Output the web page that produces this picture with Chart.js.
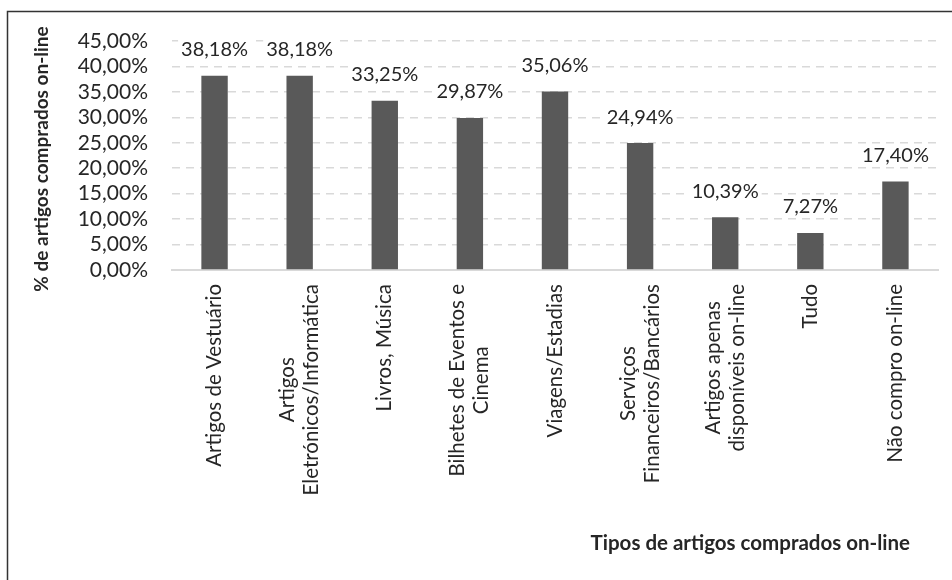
<!DOCTYPE html>
<html>
<head>
<meta charset="utf-8">
<script src="https://cdn.jsdelivr.net/npm/chart.js@4.4.1/dist/chart.umd.min.js"></script>
<style>
  html, body { margin: 0; padding: 0; background: #fff; }
  canvas { display: block; }
</style>
</head>
<body>
<canvas id="grafico" width="952" height="580"></canvas>
<script>
const categorias = [
    ['Artigos de Vestuário'],
    ['Artigos', 'Eletrónicos/Informática'],
    ['Livros, Música'],
    ['Bilhetes de Eventos e', 'Cinema'],
    ['Viagens/Estadias'],
    ['Serviços', 'Financeiros/Bancários'],
    ['Artigos apenas', 'disponíveis on-line'],
    ['Tudo'],
    ['Não compro on-line']
];
const percentagens = [38.18, 38.18, 33.25, 29.87, 35.06, 24.94, 10.39, 7.27, 17.40];
const tituloY = '% de artigos comprados on-line';
const tituloX = 'Tipos de artigos comprados on-line';

const FONTE = 'Lato, "Open Sans", sans-serif';
const COR_TEXTO = '#262626';

const fmt = (v) => v.toFixed(2).replace('.', ',') + '%';

// desenha moldura, títulos, rótulos das categorias e valores das barras
const extras = {
    id: 'extras',
    afterDraw(chart) {
        const ctx = chart.ctx;
        const x = chart.scales.x;
        ctx.save();

        // moldura (só se vê o lado esquerdo e o de cima)
        ctx.strokeStyle = '#333';
        ctx.lineWidth = 1.5;
        ctx.beginPath();
        ctx.moveTo(7.5, 580);
        ctx.lineTo(7.5, 11.5);
        ctx.lineTo(952, 11.5);
        ctx.stroke();

        ctx.fillStyle = COR_TEXTO;

        // título do eixo Y
        ctx.save();
        ctx.translate(42, 159);
        ctx.rotate(-Math.PI / 2);
        ctx.font = 'bold 19px ' + FONTE;
        ctx.textAlign = 'center';
        ctx.textBaseline = 'middle';
        ctx.fillText(tituloY, 0, 0);
        ctx.restore();

        // título do eixo X
        ctx.font = 'bold 20.5px ' + FONTE;
        ctx.textAlign = 'right';
        ctx.textBaseline = 'middle';
        ctx.fillText(tituloX, 910, 543);

        // rótulos das categorias, rodados e centrados
        ctx.font = '20.5px ' + FONTE;
        const passo = 24;
        categorias.forEach((linhas, i) => {
            const px = x.getPixelForTick(i);
            const maxW = Math.max(...linhas.map(l => ctx.measureText(l).width));
            ctx.save();
            ctx.translate(px, x.top + 14 + maxW / 2);
            ctx.rotate(-Math.PI / 2);
            ctx.textAlign = 'center';
            ctx.textBaseline = 'middle';
            linhas.forEach((l, j) => {
                ctx.fillText(l, 0, (j - (linhas.length - 1) / 2) * passo);
            });
            ctx.restore();
        });

        // valores por cima das barras
        ctx.font = '20px ' + FONTE;
        ctx.textAlign = 'center';
        ctx.textBaseline = 'middle';
        chart.getDatasetMeta(0).data.forEach((bar, i) => {
            const txt = fmt(percentagens[i]);
            const w = ctx.measureText(txt).width;
            const cy = bar.y - 26;
            ctx.fillStyle = '#fff';
            ctx.fillRect(bar.x - w / 2 - 3, cy - 11, w + 6, 22);
            ctx.fillStyle = COR_TEXTO;
            ctx.fillText(txt, bar.x, cy);
        });

        ctx.restore();
    }
};

new Chart(document.getElementById('grafico'), {
    type: 'bar',
    data: {
        labels: categorias,
        datasets: [{
            data: percentagens,
            backgroundColor: '#595959',
            barPercentage: 0.31,
            categoryPercentage: 1
        }]
    },
    options: {
        responsive: false,
        animation: false,
        devicePixelRatio: 1,
        layout: { padding: { top: 41, right: 14, bottom: 0, left: 0 } },
        plugins: {
            legend: { display: false },
            tooltip: { enabled: false }
        },
        scales: {
            x: {
                grid: { display: false, drawTicks: false },
                border: { display: true, color: '#d9d9d9', width: 2 },
                ticks: { display: false },
                afterFit: (s) => { s.height = 310; }
            },
            y: {
                min: 0,
                max: 45,
                ticks: {
                    stepSize: 5,
                    autoSkip: false,
                    padding: 24,
                    color: COR_TEXTO,
                    font: { family: FONTE, size: 21 },
                    callback: (v) => fmt(v)
                },
                grid: { color: '#d9d9d9', lineWidth: 1.5, drawTicks: false },
                border: { display: false, dash: [8, 6] },
                afterFit: (s) => { s.width = 172; }
            }
        }
    },
    plugins: [extras]
});
</script>
</body>
</html>
